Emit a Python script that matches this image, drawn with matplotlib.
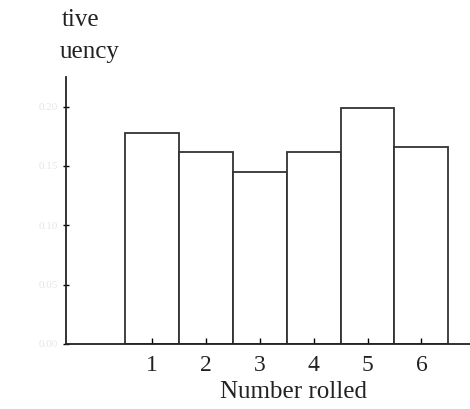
import matplotlib.pyplot as plt

faces = [1, 2, 3, 4, 5, 6]
rel_freq = [0.178, 0.162, 0.145, 0.162, 0.199, 0.166]
y_ticks = [0.0, 0.05, 0.10, 0.15, 0.20]

plt.rcParams['font.family'] = ['Liberation Serif', 'DejaVu Serif']

fig = plt.figure(figsize=(4.7, 4.09), dpi=100)
ax = fig.add_axes([0.1404, 0.159, 0.8596, 0.653])

ax.bar(faces, rel_freq, width=1.0, facecolor='white', edgecolor='#333333', linewidth=1.3)

ax.set_xlim(-0.59, 6.9)
ax.set_ylim(0, 0.225)
ax.spines['top'].set_visible(False)
ax.spines['right'].set_visible(False)
for s in ['left', 'bottom']:
    ax.spines[s].set_linewidth(1.3)
    ax.spines[s].set_color('#222222')

ax.set_xticks(faces)
ax.set_xticklabels([str(f) for f in faces], fontsize=17, color='#222222')
ax.tick_params(axis='x', direction='in', length=4, width=1, pad=8)
ax.set_yticks(y_ticks)
ax.set_yticklabels(['%.2f' % v for v in y_ticks], fontsize=8, color='#e6e6e6')
ax.tick_params(axis='y', direction='inout', length=5, width=1)

ax.set_xlabel('Number rolled', fontsize=18, color='#222222')
ax.xaxis.set_label_coords(0.562, -0.138)

# clipped axis title of the source
fig.text(62 / 470, 1 - 20 / 409, 'tive', fontsize=18, color='#222222', va='center')
fig.text(60 / 470, 1 - 52 / 409, 'uency', fontsize=18, color='#222222', va='center')

fig.savefig('out.png', dpi=100)
